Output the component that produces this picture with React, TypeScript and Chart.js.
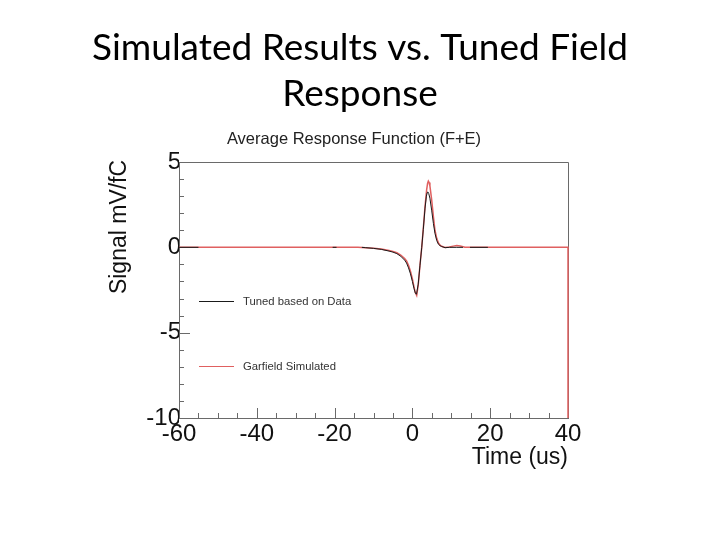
import React, { useEffect, useRef } from "react";
import { Chart, registerables } from "chart.js";

Chart.register(...registerables);

// ---- Data ----
const mainTitle = ["Simulated Results vs. Tuned Field", "Response"];
const plotTitle = "Average Response Function (F+E)";
const xAxisTitle = "Time (us)";
const yAxisTitle = "Signal mV/fC";
const legendLabels = ["Tuned based on Data", "Garfield Simulated"];

const xTicks = [-60, -40, -20, 0, 20, 40];
const yTicks = [-10, -5, 0, 5];

const timeGarfield = [
  -60, -14, -12, -10, -8, -6, -5, -4, -3, -2, -1.5, -1, -0.5, 0, 0.4, 0.75, 1.1, 1.5, 1.95, 2.4, 2.8,
  3.25, 3.65, 3.9, 4.1, 4.3, 4.5, 4.95, 5.4, 5.8, 6.25, 6.7, 7.1, 7.5, 8.4, 9.5, 10.5, 11.4, 12.3, 13.5,
  15, 40, 40,
];
const signalGarfield = [
  0, 0, -0.02, -0.05, -0.1, -0.18, -0.24, -0.32, -0.45, -0.65, -0.8, -1.05, -1.4, -1.85, -2.3, -2.65,
  -2.82, -2.2, -1.05, 0, 1.1, 2.4, 3.35, 3.75, 3.88, 3.8, 3.6, 2.8, 1.8, 1.0, 0.53, 0.25, 0.13, 0.06,
  -0.01, 0.02, 0.07, 0.11, 0.08, 0.01, 0, 0, -10,
];

const timeTuned = [
  -60, -55, -54, -20.5, -19.5, -19, -13, -12, -10, -8, -6, -5, -4, -3, -2, -1.5, -1, -0.5, 0, 0.4,
  0.75, 1.05, 1.5, 1.95, 2.4, 2.8, 3.25, 3.6, 3.8, 3.95, 4.2, 4.5, 4.95, 5.4, 5.8, 6.25, 6.7, 7.1, 7.5,
  8.4, 9.5, 11.4, 13, 13.8, 14.8, 19.4,
];
const signalTuned = [
  0, 0, null, 0, 0, null, 0, -0.02, -0.06, -0.12, -0.22, -0.28, -0.37, -0.52, -0.75, -0.92, -1.2,
  -1.55, -2.0, -2.4, -2.68, -2.75, -2.15, -1.05, 0, 1.05, 2.3, 3.0, 3.2, 3.25, 3.15, 2.88, 2.18, 1.4,
  0.82, 0.4, 0.18, 0.1, 0.05, -0.02, 0, 0, 0, null, 0, 0,
];

const COLOR_TUNED = "#1a1a1a";
const COLOR_GARFIELD = "#e06060";
const FRAME = "#6a6a6a";
const FONT = "'Liberation Sans', Arial, sans-serif";

const overlay = {
  id: "overlay",
  beforeDatasetsDraw(chart: any) {
    const { ctx, chartArea: a, scales } = chart;
    const x = scales.x;
    const y = scales.y;
    ctx.save();
    ctx.strokeStyle = FRAME;
    ctx.lineWidth = 1;
    // top and right frame
    ctx.beginPath();
    ctx.moveTo(a.left, Math.round(a.top) + 0.5);
    ctx.lineTo(Math.round(a.right) + 0.5, Math.round(a.top) + 0.5);
    ctx.lineTo(Math.round(a.right) + 0.5, a.bottom);
    ctx.stroke();
    // y ticks (inward)
    ctx.beginPath();
    for (let v = -10; v <= 5; v += 1) {
      const py = Math.round(y.getPixelForValue(v)) + 0.5;
      const len = v % 5 === 0 ? 11 : 5;
      ctx.moveTo(a.left, py);
      ctx.lineTo(a.left + len, py);
    }
    // x ticks (inward)
    for (let v = -60; v <= 40; v += 5) {
      const px = Math.round(x.getPixelForValue(v)) + 0.5;
      const len = v % 20 === 0 ? 10 : 5;
      ctx.moveTo(px, a.bottom);
      ctx.lineTo(px, a.bottom - len);
    }
    ctx.stroke();
    ctx.restore();
  },
  afterDraw(chart: any) {
    const { ctx, chartArea: a } = chart;
    ctx.save();
    // main title
    ctx.fillStyle = "#000";
    ctx.textAlign = "center";
    ctx.textBaseline = "alphabetic";
    ctx.font = "37px Lato, 'Open Sans', sans-serif";
    ctx.fillText(mainTitle[0], 360, 60);
    ctx.fillText(mainTitle[1], 360, 106);
    // plot title
    ctx.fillStyle = "#222";
    ctx.font = "16.5px " + FONT;
    ctx.textBaseline = "middle";
    ctx.fillText(plotTitle, 354, 139);
    // axis titles
    ctx.fillStyle = "#111";
    ctx.font = "23px " + FONT;
    ctx.textAlign = "right";
    ctx.fillText(xAxisTitle, a.right, 458);
    ctx.save();
    ctx.translate(120, 227);
    ctx.rotate(-Math.PI / 2);
    ctx.textAlign = "center";
    ctx.fillText(yAxisTitle, 0, 0);
    ctx.restore();
    // legend
    const rows = [
      { y: 301, color: COLOR_TUNED, label: legendLabels[0] },
      { y: 366, color: COLOR_GARFIELD, label: legendLabels[1] },
    ];
    ctx.font = "11.3px " + FONT;
    ctx.textAlign = "left";
    ctx.textBaseline = "middle";
    for (const r of rows) {
      ctx.strokeStyle = r.color;
      ctx.lineWidth = 1;
      ctx.beginPath();
      ctx.moveTo(199, r.y + 0.5);
      ctx.lineTo(234, r.y + 0.5);
      ctx.stroke();
      ctx.fillStyle = "#333";
      ctx.fillText(r.label, 243, r.y + 1);
    }
    ctx.restore();
  },
};

export default function App() {
  const ref = useRef<HTMLCanvasElement>(null);
  useEffect(() => {
    if (!ref.current) return;
    const tuned = timeTuned.map((t, i) => ({ x: t, y: signalTuned[i] }));
    const garfield = timeGarfield.map((t, i) => ({ x: t, y: signalGarfield[i] }));
    const chart = new Chart(ref.current, {
      type: "line",
      data: {
        datasets: [
          {
            label: legendLabels[0],
            data: tuned as any,
            borderColor: COLOR_TUNED,
            borderWidth: 1,
            pointRadius: 0,
            tension: 0,
            spanGaps: false,
            clip: false as any,
          },
          {
            label: legendLabels[1],
            data: garfield as any,
            borderColor: COLOR_GARFIELD,
            borderWidth: 1.5,
            pointRadius: 0,
            tension: 0,
            clip: false as any,
          },
        ],
      },
      plugins: [overlay],
      options: {
        responsive: false,
        animation: false,
        events: [],
        layout: { padding: { left: 0, right: 152, top: 162, bottom: 62 } },
        plugins: { legend: { display: false }, title: { display: false }, tooltip: { enabled: false } },
        scales: {
          x: {
            type: "linear",
            min: -60,
            max: 40,
            afterFit: (s: any) => {
              s.height = 60;
            },
            afterBuildTicks: (s: any) => {
              s.ticks = xTicks.map((v) => ({ value: v }));
            },
            ticks: {
              autoSkip: false,
              maxRotation: 0,
              padding: 2,
              color: "#111",
              font: { family: FONT, size: 24 },
            },
            grid: { display: false, drawTicks: false },
            border: { display: true, color: FRAME, width: 1 },
          },
          y: {
            type: "linear",
            min: -10,
            max: 5,
            afterFit: (s: any) => {
              s.width = 179;
            },
            afterBuildTicks: (s: any) => {
              s.ticks = yTicks.map((v) => ({ value: v }));
            },
            ticks: {
              autoSkip: false,
              padding: -2,
              color: "#111",
              font: { family: FONT, size: 24 },
            },
            grid: { display: false, drawTicks: false },
            border: { display: true, color: FRAME, width: 1 },
          },
        },
      },
    });
    return () => chart.destroy();
  }, []);
  return (
    <canvas
      ref={ref}
      width={720}
      height={540}
      style={{ position: "absolute", left: 0, top: 0, width: 720, height: 540 }}
    />
  );
}
